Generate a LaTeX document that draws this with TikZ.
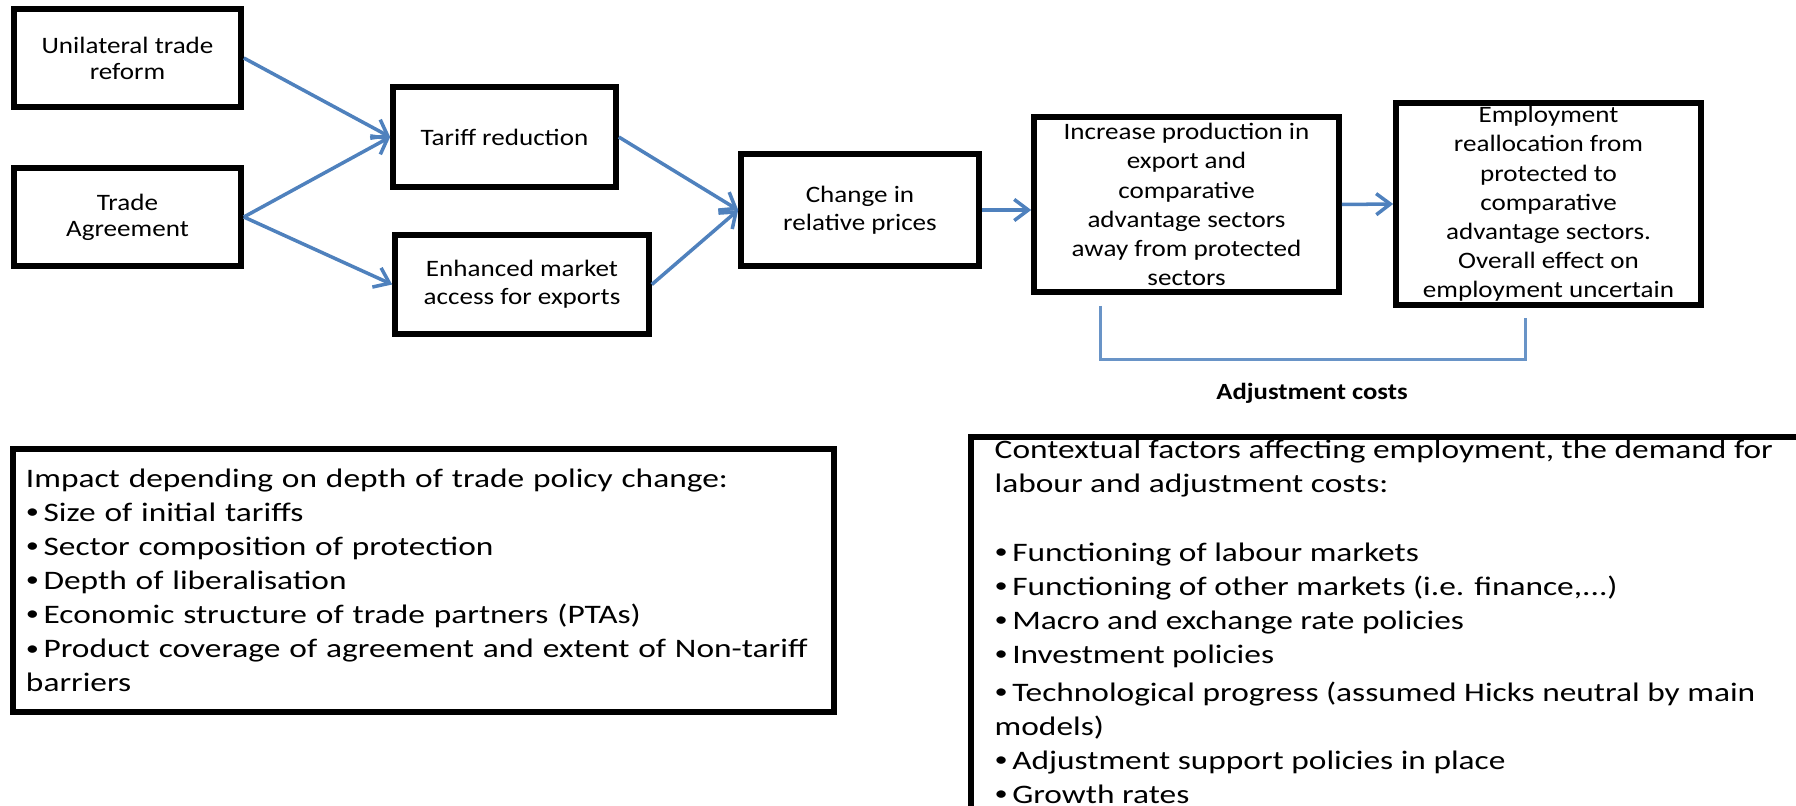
\documentclass[tikz,border=0pt]{standalone}
\usepackage{fontspec}
\setmainfont{Carlito}[FakeStretch=1.15]
\newfontfamily\widefont{Carlito}[FakeStretch=1.25]
\usetikzlibrary{arrows.meta}

\definecolor{flowblue}{RGB}{79,129,189}

\newcommand{\itembul}{{\fontsize{6}{6}\selectfont\raisebox{0.8pt}{•}}\,}

\tikzset{
    stage/.style={draw, line width=1.6pt, align=center, inner sep=1pt,
        font=\fontsize{6.7}{8}\selectfont},
    factortext/.style={align=left, inner sep=0pt,
        font=\widefont\fontsize{7.6}{9.7}\selectfont},
    factors/.style={factortext, draw, line width=1.5pt},
    flow/.style={->, draw=flowblue, line width=1pt},
    bracket/.style={draw=flowblue!85, line width=0.9pt},
    costlabel/.style={font=\fontsize{6.6}{8}\selectfont\bfseries},
}

\begin{document}
\begin{tikzpicture}[>={Straight Barb[length=4pt,width=6pt]}]
    \useasboundingbox (0,0) rectangle (17.96,-8.06);

    % policy sources
    \node [stage, font=\fontsize{6.7}{7.4}\selectfont, minimum width=2.27cm, minimum height=0.98cm] (unilat) at (1.275,-0.58) {Unilateral trade\\reform};
    \node [stage, font=\fontsize{6.7}{7.4}\selectfont, minimum width=2.27cm, minimum height=0.98cm] (agree) at (1.275,-2.17) {Trade\\Agreement};

    % channels
    \node [stage, minimum width=2.23cm, minimum height=1.00cm] (tariff) at (5.045,-1.37) {Tariff reduction};
    \node [stage, minimum width=2.54cm, minimum height=0.99cm] (access) at (5.22,-2.845) {Enhanced market\\access for exports};
    \node [stage, minimum width=2.38cm, minimum height=1.12cm] (prices) at (8.60,-2.10) {Change in\\relative prices};

    % effects
    \node [stage, font=\fontsize{6.7}{8.3}\selectfont, minimum width=3.05cm, minimum height=1.75cm] (increase) at (11.865,-2.045) {Increase production in\\export and\\comparative\\advantage sectors\\away from protected\\sectors};
    \node [stage, font=\fontsize{6.7}{8.3}\selectfont, minimum width=3.05cm, minimum height=2.02cm] (employ) at (15.485,-2.04) {Employment\\reallocation from\\protected to\\comparative\\advantage sectors.\\Overall effect on\\employment uncertain};

    \draw [flow] (unilat.east) -- (tariff.west);
    \draw [flow] (agree.east) -- (tariff.west);
    \draw [flow] (agree.east) -- (access.west);
    \draw [flow] (tariff.east) -- (prices.west);
    \draw [flow] (access.east) -- (prices.west);
    \draw [flow] (prices.east) -- (prices.east -| increase.west);
    \draw [flow] (increase.east) -- (employ.west);

    % adjustment costs bracket
    \coordinate (adjl) at ([xshift=-0.86cm,yshift=-0.11cm]increase.south);
    \coordinate (adjr) at ([xshift=-0.23cm,yshift=-0.10cm]employ.south);
    \draw [bracket] (adjl) -- ++(0,-0.54) -| (adjr);
    \node [costlabel] (adjcost) at (13.12,-3.93) {Adjustment costs};

    % depth of policy change
    \node [factors, text width=7.95cm, inner xsep=0.13cm, minimum height=2.63cm] (impact) at (4.235,-5.805) {Impact depending on depth of trade policy change:\\
        \itembul Size of initial tariffs\\
        \itembul Sector composition of protection\\
        \itembul Depth of liberalisation\\
        \itembul Economic structure of trade partners (PTAs)\\
        \itembul Product coverage of agreement and extent of Non-tariff\\
        barriers};

    % contextual factors (box runs off the page)
    \node [factortext, anchor=north west, inner xsep=0.23cm, inner ysep=0.5pt] (context) at (9.71,-4.37) {Contextual factors affecting employment, the demand for\\
        labour and adjustment costs:\\[10pt]
        \itembul Functioning of labour markets\\
        \itembul Functioning of other markets (i.e. finance,...)\\
        \itembul Macro and exchange rate policies\\
        \itembul Investment policies\\[1pt]
        \itembul Technological progress (assumed Hicks neutral by main\\
        models)\\
        \itembul Adjustment support policies in place\\
        \itembul Growth rates};
    \draw [line width=1.5pt] (context.north west) rectangle ++(8.6,-4);
\end{tikzpicture}
\end{document}
